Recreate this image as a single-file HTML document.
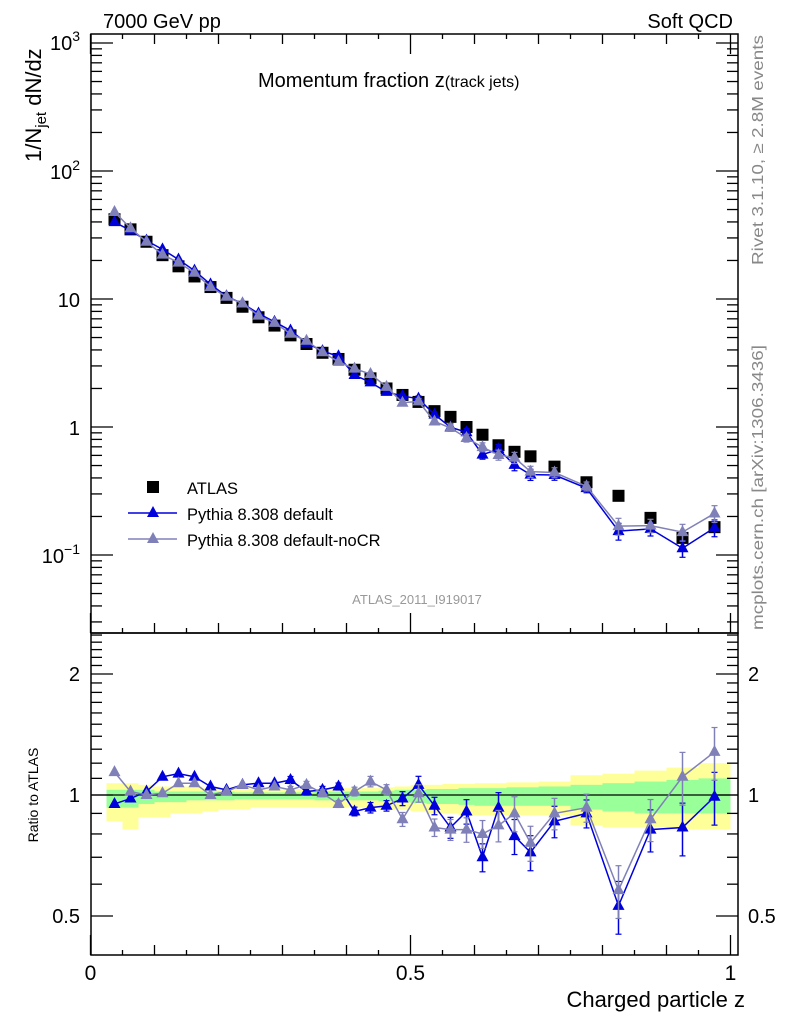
<!DOCTYPE html>
<html><head><meta charset="utf-8"><style>
body{margin:0;background:#fff;}
svg text{font-family:"Liberation Sans",sans-serif;}
</style></head><body>
<svg id="c" width="786" height="1024" viewBox="0 0 786 1024" xmlns="http://www.w3.org/2000/svg">
<rect width="786" height="1024" fill="#fff"/>
<g id="bands"></g><g id="ticks"></g><g id="marks"></g>
<rect x="91" y="34" width="647" height="599" fill="none" stroke="#000" stroke-width="1.5"/>
<rect x="91" y="633" width="647" height="322" fill="none" stroke="#000" stroke-width="1.5"/>
<text x="103" y="28" font-size="20">7000 GeV pp</text>
<text x="733" y="28" font-size="20" text-anchor="end">Soft QCD</text>
<text x="258" y="87" font-size="20">Momentum fraction z<tspan font-size="16">(track jets)</tspan></text>
<text transform="translate(41,162) rotate(-90)" font-size="22">1/N<tspan font-size="15" dy="5">jet</tspan><tspan dy="-5"> dN/dz</tspan></text>
<text transform="translate(763,265) rotate(-90)" font-size="16" fill="#888" textLength="230" lengthAdjust="spacingAndGlyphs">Rivet 3.1.10, ≥ 2.8M events</text>
<text transform="translate(763,630) rotate(-90)" font-size="16" fill="#888" textLength="285" lengthAdjust="spacingAndGlyphs">mcplots.cern.ch [arXiv:1306.3436]</text>
<text x="417" y="604" font-size="13" fill="#999" text-anchor="middle">ATLAS_2011_I919017</text>
<text transform="translate(38,795) rotate(-90)" font-size="14" text-anchor="middle">Ratio to ATLAS</text>
<text x="745" y="1007" font-size="22" text-anchor="end">Charged particle z</text>
<g>
<rect x="147" y="481" width="12" height="12" fill="#000"/>
<text x="187" y="494" font-size="16.5">ATLAS</text>
<line x1="128" y1="513" x2="177" y2="513" stroke="#0000dd" stroke-width="1.5"/>
<polygon points="153,506 159,517 147,517" fill="#0000dd"/>
<text x="187" y="520" font-size="16.5">Pythia 8.308 default</text>
<line x1="128" y1="539" x2="177" y2="539" stroke="#8080b8" stroke-width="1.5"/>
<polygon points="153,532 159,543 147,543" fill="#8080b8"/>
<text x="187" y="546" font-size="16.5">Pythia 8.308 default-noCR</text>
</g>
</svg>
<script>
const zCenters=[0.0375,0.0625,0.0875,0.1125,0.1375,0.1625,0.1875,0.2125,0.2375,0.2625,0.2875,0.3125,0.3375,0.3625,0.3875,0.4125,0.4375,0.4625,0.4875,0.5125,0.5375,0.5625,0.5875,0.6125,0.6375,0.6625,0.6875,0.725,0.775,0.825,0.875,0.925,0.975];
const binEdges=[0.025,0.05,0.075,0.1,0.125,0.15,0.175,0.2,0.225,0.25,0.275,0.3,0.325,0.35,0.375,0.4,0.425,0.45,0.475,0.5,0.525,0.55,0.575,0.6,0.625,0.65,0.675,0.7,0.75,0.8,0.85,0.9,0.95,1.0];
const atlasVals=[42,35,28,22,18,15,12.4,10.2,8.7,7.2,6.2,5.2,4.45,3.8,3.4,2.8,2.4,2.0,1.78,1.57,1.33,1.2,1.0,0.87,0.72,0.64,0.59,0.49,0.37,0.29,0.195,0.136,0.165];
const ratioDefault=[0.95,0.98,1.02,1.11,1.13,1.11,1.05,1.03,1.06,1.07,1.07,1.09,1.02,1.03,1.05,0.91,0.93,0.94,0.98,1.06,0.94,0.83,0.91,0.70,0.93,0.79,0.72,0.86,0.90,0.53,0.82,0.83,0.99];
const ratioNoCR=[1.14,1.02,1.0,1.01,1.07,1.07,1.0,1.02,1.06,1.03,1.05,1.03,1.06,1.01,0.95,1.02,1.08,1.03,0.87,1.01,0.83,0.82,0.82,0.80,0.84,0.90,0.76,0.90,0.93,0.58,0.87,1.11,1.28];
const mcErr=[0.01,0.01,0.01,0.01,0.01,0.01,0.01,0.01,0.015,0.015,0.015,0.02,0.02,0.02,0.02,0.025,0.03,0.03,0.04,0.05,0.05,0.06,0.07,0.08,0.09,0.1,0.1,0.09,0.08,0.15,0.12,0.15,0.15];
const yellowUp=[1.07,1.07,1.06,1.05,1.05,1.05,1.04,1.04,1.04,1.035,1.035,1.035,1.035,1.035,1.04,1.04,1.04,1.045,1.05,1.06,1.06,1.065,1.065,1.07,1.07,1.075,1.075,1.08,1.12,1.13,1.15,1.17,1.2];
const yellowDn=[0.86,0.82,0.88,0.88,0.9,0.9,0.91,0.92,0.92,0.93,0.93,0.93,0.93,0.93,0.93,0.93,0.93,0.92,0.92,0.91,0.9,0.9,0.89,0.89,0.89,0.89,0.89,0.89,0.84,0.83,0.83,0.82,0.82];
const greenUp=[1.03,1.03,1.03,1.02,1.02,1.02,1.02,1.02,1.015,1.015,1.015,1.015,1.015,1.02,1.02,1.02,1.02,1.025,1.03,1.03,1.035,1.035,1.04,1.04,1.04,1.045,1.045,1.05,1.06,1.07,1.08,1.09,1.1];
const greenDn=[0.93,0.93,0.95,0.96,0.96,0.97,0.97,0.97,0.975,0.975,0.975,0.975,0.975,0.97,0.97,0.97,0.97,0.965,0.96,0.955,0.95,0.95,0.945,0.94,0.94,0.94,0.94,0.94,0.92,0.91,0.9,0.9,0.9];
const NS='http://www.w3.org/2000/svg';
const X=z=>90.5+640*z;
const Y=v=>427-128*Math.log10(v);
const R=r=>795-121*Math.log2(r);
function mk(tag,at,parent){const e=document.createElementNS(NS,tag);for(const k in at)e.setAttribute(k,at[k]);document.getElementById(parent).appendChild(e);return e;}
for(let i=0;i<zCenters.length;i++){
 const x0=X(binEdges[i]),x1=X(binEdges[i+1]);
 let b=mk('rect',{x:x0,y:R(yellowUp[i]),width:x1-x0,height:R(yellowDn[i])-R(yellowUp[i]),fill:'#ffff99'},'bands');
 
 
 let g=mk('rect',{x:x0,y:R(greenUp[i]),width:x1-x0,height:R(greenDn[i])-R(greenUp[i]),fill:'#99ff99'},'bands');
 
 
}
let ref=mk('line',{x1:91,x2:738,y1:R(1),y2:R(1),stroke:'#000','stroke-width':1.3},'bands');


function tk(x1,y1,x2,y2){const t=mk('line',{x1,y1,x2,y2,stroke:'#000','stroke-width':1.3},'ticks');}
function lbl(x,y,s,anchor,size,name){const t=mk('text',{x,y,'font-size':size,'text-anchor':anchor},'ticks');t.innerHTML=s;}
for(let e=-2;e<=3;e++){for(let m=1;m<10;m++){const v=m*Math.pow(10,e);const y=Y(v);if(y<34||y>633)continue;const L=m==1?22:11;tk(91,y,91+L,y);tk(738,y,738-L,y);}}
lbl(80,50,'10<tspan font-size="14" dy="-9">3</tspan>','end',20,'y-tick-label');
lbl(80,179,'10<tspan font-size="14" dy="-9">2</tspan>','end',20,'y-tick-label');
lbl(80,307,'10','end',20,'y-tick-label');
lbl(80,435,'1','end',20,'y-tick-label');
lbl(80,563,'10<tspan font-size="14" dy="-9">−1</tspan>','end',20,'y-tick-label');
for(let k=0;k<=20;k++){const z=k*0.05;const x=X(z);const L=k%10==0?20:(k%2==0?10:5);tk(x,955,x,955-L);tk(x,633,x,633-L);tk(x,34,x,34+L);}
for(let k=5;k<=25;k++){const r=k/10;const y=R(r);if(y<633||y>955)continue;const L=(k==5||k==10||k==20)?22:11;tk(91,y,91+L,y);tk(738,y,738-L,y);}
[[2,'2'],[1,'1'],[0.5,'0.5']].forEach(([r,s])=>{lbl(80,R(r)+7,s,'end',20,'ratio-tick-label');lbl(748,R(r)+7,s,'start',20,'ratio-tick-label');});
lbl(X(0),980,'0','middle',21,'x-tick-label');lbl(X(0.5),980,'0.5','middle',21,'x-tick-label');lbl(X(1),980,'1','middle',21,'x-tick-label');
function tri(x,y,c,name){const p=mk('polygon',{points:`${x},${y-7} ${x+6},${y+4} ${x-6},${y+4}`,fill:c},'marks');}
function err(x,y1,y2,c){const l=mk('line',{x1:x,x2:x,y1,y2,stroke:c,'stroke-width':1.5},'marks');
 [y1,y2].forEach(y=>{const c2=mk('line',{x1:x-3,x2:x+3,y1:y,y2:y,stroke:c,'stroke-width':1.2},'marks');});}
function series(ratios,c,name){
 const main=zCenters.map((z,i)=>[X(z),Y(atlasVals[i]*ratios[i])]);
 const rat=zCenters.map((z,i)=>[X(z),R(ratios[i])]);
 let pl=mk('polyline',{points:main.map(p=>p.join(',')).join(' '),fill:'none',stroke:c,'stroke-width':1.5},'marks');
 
 
 let pr=mk('polyline',{points:rat.map(p=>p.join(',')).join(' '),fill:'none',stroke:c,'stroke-width':1.5},'marks');
 
 
 zCenters.forEach((z,i)=>{const v=atlasVals[i]*ratios[i],e=mcErr[i];
  if(e>=0.02){err(X(z),Y(v*(1+e)),Y(v*(1-e)),c);err(X(z),R(ratios[i]*(1+e)),R(ratios[i]*(1-e)),c);}
  tri(main[i][0],main[i][1],c,name+'-point');tri(rat[i][0],rat[i][1],c,name+'-ratio-point');});
}
zCenters.forEach((z,i)=>{const s=mk('rect',{x:X(z)-6,y:Y(atlasVals[i])-6,width:12,height:12,fill:'#000'},'marks');});
series(ratioDefault,'#0000dd','pythia-default');
series(ratioNoCR,'#8080b8','pythia-nocr');
</script>
</body></html>
